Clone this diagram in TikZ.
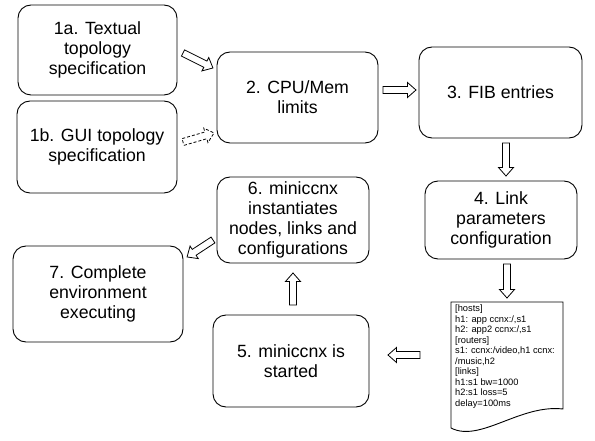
\documentclass[tikz,border=0pt]{standalone}
\usepackage{fontspec}
\setmainfont{Liberation Sans}
\begin{document}
\begin{tikzpicture}[x=1pt,y=-1pt,
  box/.style={draw, line width=0.9pt, rounded corners=13pt, align=center, inner sep=2pt, font=\fontsize{17.7}{20}\selectfont},
  pics/barr/.style={code={
    \draw[line width=0.8pt, fill=white, line join=miter]
      (0,3.5) -- (#1-8.5,3.5) -- (#1-8.5,7.5) -- (#1,0) -- (#1-8.5,-7.5) -- (#1-8.5,-3.5) -- (0,-3.5) -- cycle;}},
  dashedarrow/.style={dash pattern=on 3pt off 2pt},
]
\path[use as bounding box, fill=white] (0,0) rectangle (595,441);
\node[box, minimum width=159pt, minimum height=90pt] (n1a) at (97.5,50) {1a. Textual\\topology\\specification};
\node[box, minimum width=160pt, minimum height=92pt] (n1b) at (97,147) {1b. GUI topology\\specification};
\node[box, minimum width=161pt, minimum height=91pt] (n2) at (297.5,97.5) {2. CPU/Mem\\limits};
\node[box, minimum width=163pt, minimum height=91pt] (n3) at (500.5,92.5) {3. FIB entries};
\node[box, minimum width=152pt, minimum height=78pt] (n4) at (501,220) {4. Link\\parameters\\configuration};
\node[box, minimum width=152pt, minimum height=86pt] (n6) at (293,220) {6. miniccnx\\instantiates\\nodes, links and\\configurations};
\node[box, minimum width=170pt, minimum height=96pt] (n7) at (98,294) {7. Complete\\environment\\executing};
\node[box, minimum width=156pt, minimum height=92pt] (n5) at (291,361) {5. miniccnx is\\started};
% document
\draw[line width=0.9pt] (451,302) -- (563,302) -- (563,409)
  .. controls (520,404) and (480,443) .. (451,428) -- cycle;
\node[anchor=north west, align=left, inner sep=0pt, font=\fontsize{9.3}{10.5}\selectfont] (doc) at (455,305)
 {[hosts]\\h1: app ccnx:/,s1\\h2: app2 ccnx:/,s1\\[0pt][routers]\\s1: ccnx:/video,h1 ccnx:\\/music,h2\\[0pt][links]\\h1:s1 bw=1000\\h2:s1 loss=5\\delay=100ms};
% arrow start points (named)
\coordinate (a1s) at (183,53);
\coordinate (b1s) at (183,142);
\coordinate (c2s) at (383,90);
\coordinate (c3s) at (506,143);
\coordinate (c4s) at (507,264);
\coordinate (cds) at (420,355);
\coordinate (c5s) at (293,305);
\coordinate (c6s) at (213,240);
\pic[rotate=-26.6] at (a1s) {barr=33.5};
\pic[rotate=16.2, dashedarrow] at (b1s) {barr=32.3};
\pic at (c2s) {barr=33};
\pic[rotate=-90] at (c3s) {barr=33};
\pic[rotate=-90] at (c4s) {barr=34};
\pic[rotate=180] at (cds) {barr=32};
\pic[rotate=90] at (c5s) {barr=32};
\pic[rotate=213.2] at (c6s) {barr=31};
\end{tikzpicture}
\end{document}
